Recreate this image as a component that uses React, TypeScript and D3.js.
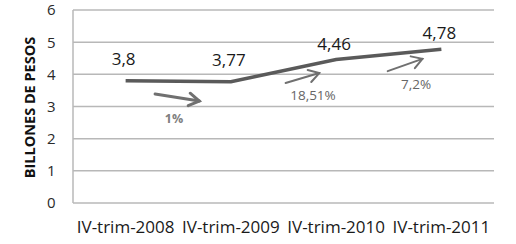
import React from "react";
import * as d3 from "d3";

const categories = ["IV-trim-2008", "IV-trim-2009", "IV-trim-2010", "IV-trim-2011"];
const values = [3.8, 3.77, 4.46, 4.78];
const valueLabels = ["3,8", "3,77", "4,46", "4,78"];
const yTicks = [0, 1, 2, 3, 4, 5, 6];
// annotation arrows in data units: [x0, y0, x1, y1] (x = category index, y = value)
const arrows = [
  [0.28, 3.39, 0.7, 3.17],
  [1.52, 3.73, 1.84, 4.04],
  [2.49, 4.1, 2.82, 4.48],
];
const arrowLabels = ["1%", "18,51%", "7,2%"];
const arrowLabelPos = [
  [0.46, 2.49],
  [1.78, 3.2],
  [2.76, 3.54],
];

const W = 516;
const H = 244;
const left = 73;
const right = 494;
const top = 10;
const bottom = 203;

export default function App() {
  const x = d3.scaleLinear().domain([-0.5, categories.length - 0.5]).range([left, right]);
  const y = d3.scaleLinear().domain([0, 6]).range([bottom, top]);
  const line = d3
    .line<number>()
    .x((_, i) => x(i))
    .y((d) => y(d));
  const font = "Open Sans, Lato, sans-serif";

  const arrowHead = (x0: number, y0: number, x1: number, y1: number) => {
    const ang = Math.atan2(y1 - y0, x1 - x0);
    const len = 12;
    const spread = 0.55;
    const a = [x1 - len * Math.cos(ang - spread), y1 - len * Math.sin(ang - spread)];
    const b = [x1 - len * Math.cos(ang + spread), y1 - len * Math.sin(ang + spread)];
    return `M${a[0]},${a[1]}L${x1},${y1}L${b[0]},${b[1]}`;
  };

  return (
    <svg
      width={W}
      height={H}
      style={{ position: "absolute", left: 0, top: 0, background: "#fff" }}
      fontFamily={font}
    >
      <rect width={W} height={H} fill="#fff" />
      {yTicks.map((t) => (
        <g key={t}>
          <line x1={left} x2={right} y1={y(t)} y2={y(t)} stroke="#b8b8b8" strokeWidth={1.5} />
          <text x={55.5} y={y(t)} dy="0.36em" textAnchor="end" fontSize={15} fill="#2a2a2a">
            {t}
          </text>
        </g>
      ))}
      <line x1={left} x2={left} y1={top} y2={bottom} stroke="#b8b8b8" strokeWidth={1.5} />
      {categories.map((c, i) => (
        <text key={c} x={x(i)} y={233} textAnchor="middle" fontSize={17} fill="#1a1a1a">
          {c}
        </text>
      ))}
      <text
        transform={`translate(35,${(top + bottom) / 2 + 1}) rotate(-90)`}
        textAnchor="middle"
        fontSize={14.5}
        fontWeight="bold"
        fill="#111"
      >
        BILLONES DE PESOS
      </text>
      <path d={line(values) || ""} fill="none" stroke="#5a5a5a" strokeWidth={3.5} />
      {values.map((v, i) => (
        <text
          key={i}
          x={x(i) - 2}
          y={i < 2 ? y(v) - 16 : y(v) - 10}
          textAnchor="middle"
          fontSize={17}
          fill="#1a1a1a"
        >
          {valueLabels[i]}
        </text>
      ))}
      {arrows.map((a, i) => {
        const x0 = x(a[0]);
        const y0 = y(a[1]);
        const x1 = x(a[2]);
        const y1 = y(a[3]);
        const sw = i === 0 ? 3 : 2;
        return (
          <g key={i} stroke="#707070" strokeWidth={sw} fill="none" strokeLinecap="round">
            <line x1={x0} y1={y0} x2={x1} y2={y1} />
            <path d={arrowHead(x0, y0, x1, y1)} />
          </g>
        );
      })}
      {arrowLabels.map((l, i) => (
        <text
          key={l}
          x={x(arrowLabelPos[i][0])}
          y={y(arrowLabelPos[i][1])}
          textAnchor="middle"
          fontSize={i === 0 ? 12.5 : 13.5}
          fontWeight={i === 0 ? "bold" : "normal"}
          fill={i === 0 ? "#808080" : "#666"}
        >
          {l}
        </text>
      ))}
    </svg>
  );
}
